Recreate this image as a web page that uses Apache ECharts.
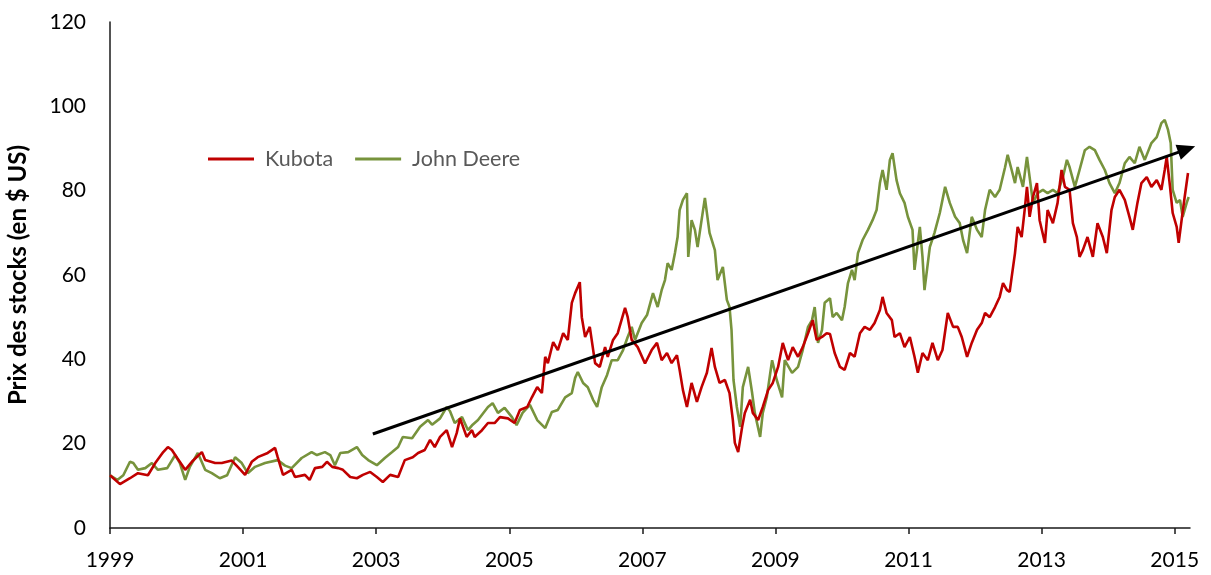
<!DOCTYPE html>
<html>
<head>
<meta charset="utf-8">
<script src="https://cdn.jsdelivr.net/npm/echarts@6/dist/echarts.min.js"></script>
<style>html,body{margin:0;padding:0;background:#fff}#c{width:1211px;height:575px}</style>
</head>
<body>
<div id="c"></div>
<script>
var yTicks = [0, 20, 40, 60, 80, 100, 120];
var xTickYears = [1999, 2001, 2003, 2005, 2007, 2009, 2011, 2013, 2015];
var seriesNames = ['Kubota', 'John Deere'];

var kubota = [
[1999.00,12.5],[1999.15,10.4],[1999.30,11.8],[1999.42,13.0],[1999.57,12.5],[1999.68,15.4],[1999.80,18.0],[1999.87,19.2],[1999.93,18.5],
[2000.01,16.6],[2000.13,13.8],[2000.23,15.7],[2000.38,18.0],[2000.43,16.1],[2000.58,15.4],[2000.68,15.4],[2000.83,16.0],[2000.92,14.5],
[2001.03,12.6],[2001.13,15.7],[2001.22,16.8],[2001.37,17.8],[2001.48,19.0],[2001.52,16.8],[2001.60,12.6],[2001.73,13.8],[2001.78,12.1],[2001.93,12.6],
[2002.00,11.4],[2002.08,14.2],[2002.19,14.5],[2002.26,15.7],[2002.34,14.5],[2002.43,14.2],[2002.50,13.8],[2002.61,12.1],[2002.71,11.8],[2002.80,12.6],[2002.91,13.3],
[2003.01,12.1],[2003.10,10.9],[2003.21,12.6],[2003.33,12.1],[2003.39,14.5],[2003.43,16.1],[2003.55,16.8],[2003.63,17.8],[2003.73,18.5],[2003.81,20.9],[2003.88,19.2],[2003.96,21.6],
[2004.06,23.2],[2004.14,19.2],[2004.21,22.5],[2004.26,26.0],[2004.36,21.6],[2004.44,23.2],[2004.48,21.6],[2004.59,23.2],[2004.68,24.9],[2004.78,24.9],[2004.86,26.3],[2004.98,26.0],
[2005.08,24.9],[2005.16,28.0],[2005.27,28.7],[2005.34,31.0],[2005.42,33.4],[2005.49,32.0],[2005.54,40.6],[2005.58,39.1],[2005.66,44.1],[2005.73,42.2],[2005.81,46.2],[2005.88,44.6],[2005.94,53.4],[2005.99,55.7],
[2006.06,58.3],[2006.09,50.0],[2006.14,45.3],[2006.21,47.7],[2006.29,39.1],[2006.36,38.2],[2006.44,42.9],[2006.48,40.6],[2006.56,44.6],[2006.63,46.2],[2006.74,52.2],[2006.78,50.0],[2006.84,44.6],[2006.93,42.9],
[2007.04,39.0],[2007.14,42.2],[2007.22,43.9],[2007.29,39.8],[2007.37,41.5],[2007.44,39.1],[2007.52,41.0],[2007.56,37.5],[2007.61,32.7],[2007.67,28.7],[2007.74,34.4],[2007.82,29.9],[2007.89,33.4],[2007.97,36.8],
[2008.04,42.7],[2008.09,38.2],[2008.16,34.4],[2008.24,35.1],[2008.31,32.0],[2008.36,25.6],[2008.39,20.2],[2008.44,18.0],[2008.50,24.0],[2008.54,27.3],[2008.62,30.4],[2008.66,27.3],[2008.74,25.6],[2008.81,28.7],[2008.89,32.7],[2008.96,34.4],
[2009.04,38.2],[2009.11,43.9],[2009.19,39.8],[2009.26,42.9],[2009.34,40.6],[2009.41,42.9],[2009.49,46.2],[2009.56,49.3],[2009.62,44.6],[2009.70,45.3],[2009.77,46.2],[2009.82,46.0],[2009.89,41.5],[2009.97,38.2],
[2010.04,37.5],[2010.12,41.5],[2010.19,40.6],[2010.27,46.2],[2010.34,47.7],[2010.42,47.0],[2010.49,48.6],[2010.57,51.7],[2010.61,54.8],[2010.67,51.0],[2010.75,49.3],[2010.79,45.3],[2010.87,46.2],[2010.94,42.9],
[2011.02,45.3],[2011.09,40.6],[2011.14,36.8],[2011.21,41.5],[2011.29,39.8],[2011.36,43.9],[2011.44,39.8],[2011.51,42.2],[2011.59,51.0],[2011.67,47.7],[2011.74,47.7],[2011.80,45.3],[2011.88,40.6],[2011.95,43.9],
[2012.03,47.0],[2012.10,48.6],[2012.15,51.0],[2012.22,50.0],[2012.30,52.4],[2012.37,54.8],[2012.42,58.1],[2012.48,56.4],[2012.52,56.0],[2012.55,59.5],[2012.60,65.2],[2012.64,71.4],[2012.70,69.0],[2012.75,76.1],[2012.78,80.9],[2012.82,73.8],[2012.87,78.5],[2012.93,81.8],[2012.97,73.0],
[2013.05,67.6],[2013.09,75.4],[2013.17,72.3],[2013.24,77.1],[2013.30,84.9],[2013.35,80.9],[2013.42,80.2],[2013.47,72.3],[2013.53,69.0],[2013.57,64.3],[2013.62,65.9],[2013.69,69.0],[2013.77,64.3],[2013.84,72.3],[2013.92,69.0],[2013.98,65.2],
[2014.05,75.4],[2014.10,78.5],[2014.17,80.2],[2014.25,77.8],[2014.32,73.8],[2014.37,70.7],[2014.44,77.1],[2014.50,81.8],[2014.58,83.2],[2014.65,80.9],[2014.73,82.5],[2014.80,80.2],[2014.85,84.9],[2014.88,88.0],[2014.93,80.9],[2014.97,74.7],
[2015.03,71.4],[2015.06,67.6],[2015.11,73.8],[2015.15,78.5],[2015.20,84.2]
];

var johnDeere = [
[1999.00,12.5],[1999.11,11.4],[1999.20,12.5],[1999.30,15.7],[1999.35,15.4],[1999.42,13.8],[1999.53,14.2],[1999.63,15.4],[1999.72,13.8],[1999.86,14.2],[1999.98,17.3],
[2000.05,15.4],[2000.13,11.4],[2000.20,14.5],[2000.32,17.8],[2000.43,13.8],[2000.53,13.0],[2000.65,11.8],[2000.76,12.5],[2000.88,16.8],[2000.98,15.4],
[2001.07,13.0],[2001.18,14.5],[2001.33,15.4],[2001.52,16.1],[2001.63,14.8],[2001.73,14.2],[2001.88,16.6],
[2002.03,18.0],[2002.11,17.3],[2002.23,18.0],[2002.31,17.3],[2002.38,14.9],[2002.46,17.8],[2002.58,18.0],[2002.71,19.2],[2002.79,17.3],[2002.88,16.1],
[2003.01,14.9],[2003.13,16.6],[2003.24,18.0],[2003.33,19.2],[2003.40,21.6],[2003.54,21.3],[2003.66,24.0],[2003.78,25.6],[2003.84,24.5],[2003.96,26.0],
[2004.06,28.7],[2004.11,27.7],[2004.18,24.9],[2004.29,26.3],[2004.38,23.2],[2004.45,24.5],[2004.53,25.6],[2004.68,28.7],[2004.75,29.6],[2004.83,27.3],[2004.93,28.5],
[2005.04,26.3],[2005.11,24.4],[2005.20,27.3],[2005.31,29.2],[2005.42,25.6],[2005.54,23.7],[2005.64,27.5],[2005.73,28.0],[2005.84,31.0],[2005.94,32.0],[2005.99,35.6],
[2006.03,37.0],[2006.11,34.4],[2006.18,33.4],[2006.26,30.4],[2006.32,28.7],[2006.39,33.4],[2006.47,36.3],[2006.54,39.8],[2006.63,39.8],[2006.71,42.2],[2006.78,45.3],[2006.84,47.7],[2006.89,44.6],[2006.99,48.6],
[2007.07,50.5],[2007.16,55.7],[2007.23,52.4],[2007.29,56.4],[2007.34,58.8],[2007.38,62.8],[2007.44,61.2],[2007.49,65.2],[2007.53,69.0],[2007.56,75.4],[2007.61,77.8],[2007.67,79.4],[2007.69,64.3],[2007.74,73.0],[2007.79,70.7],[2007.83,66.6],[2007.89,73.0],[2007.94,78.3],
[2008.01,70.0],[2008.09,65.9],[2008.13,58.8],[2008.21,61.9],[2008.27,54.1],[2008.31,52.4],[2008.34,47.0],[2008.37,35.1],[2008.42,28.7],[2008.47,24.0],[2008.51,33.4],[2008.59,38.2],[2008.65,32.0],[2008.69,27.3],[2008.77,21.6],[2008.81,27.3],[2008.87,31.0],[2008.95,39.8],
[2009.02,35.1],[2009.10,31.0],[2009.14,39.8],[2009.25,36.8],[2009.34,38.2],[2009.41,42.2],[2009.49,47.7],[2009.55,49.3],[2009.59,52.4],[2009.64,43.9],[2009.70,47.0],[2009.74,53.4],[2009.82,54.5],[2009.86,50.0],[2009.92,51.0],
[2010.00,49.3],[2010.04,52.4],[2010.09,58.1],[2010.15,61.2],[2010.19,58.8],[2010.24,65.2],[2010.31,68.3],[2010.39,70.7],[2010.46,73.0],[2010.52,75.4],[2010.57,81.8],[2010.61,84.9],[2010.67,80.2],[2010.72,87.3],[2010.76,88.9],[2010.82,82.5],[2010.87,79.4],[2010.94,77.1],[2010.99,73.8],
[2011.06,70.7],[2011.09,61.2],[2011.17,71.4],[2011.21,64.3],[2011.24,56.4],[2011.32,66.6],[2011.39,70.0],[2011.47,74.7],[2011.55,80.9],[2011.62,77.1],[2011.70,73.8],[2011.77,72.3],[2011.82,68.3],[2011.88,65.2],[2011.95,73.8],
[2012.03,70.7],[2012.10,69.0],[2012.15,75.4],[2012.22,80.2],[2012.30,78.5],[2012.37,80.2],[2012.45,85.5],[2012.49,88.5],[2012.55,84.9],[2012.60,81.8],[2012.64,85.6],[2012.72,80.9],[2012.78,88.0],[2012.82,83.2],[2012.87,77.1],[2012.94,79.4],
[2013.02,80.2],[2013.09,79.4],[2013.17,80.2],[2013.24,79.4],[2013.32,83.2],[2013.38,87.3],[2013.42,85.6],[2013.50,80.9],[2013.57,84.9],[2013.65,89.6],[2013.72,90.4],[2013.80,89.6],[2013.87,87.3],[2013.95,84.9],
[2014.02,81.8],[2014.10,79.4],[2014.17,81.8],[2014.25,86.5],[2014.32,88.0],[2014.40,86.5],[2014.47,90.4],[2014.55,87.3],[2014.65,91.3],[2014.73,92.7],[2014.80,96.0],[2014.85,96.8],[2014.90,94.4],[2014.94,91.3],[2014.97,80.2],
[2015.03,77.1],[2015.08,77.8],[2015.12,73.8],[2015.18,77.1],[2015.21,78.5]
];

var trendArrow = [[2002.95, 22.3], [2015.18, 89.8]];

var chart = echarts.init(document.getElementById('c'), null, {renderer: 'canvas'});
var fontFam = 'Lato, "Open Sans", sans-serif';
chart.setOption({
  animation: false,
  backgroundColor: '#ffffff',
  grid: {left: 110, right: 21, top: 22, bottom: 47, containLabel: false, outerBoundsMode: 'none'},
  legend: {
    left: 203, top: 143, itemWidth: 46, itemHeight: 3, itemGap: 22, icon: 'rect',
    data: seriesNames,
    textStyle: {color: '#595959', fontSize: 21.5, fontFamily: fontFam, padding: [0, 0, 0, 6]}
  },
  xAxis: {
    type: 'value', min: 1999, max: 2015.23,
    axisLine: {show: true, lineStyle: {color: '#1a1a1a', width: 1.5}},
    axisTick: {show: true, length: 6, lineStyle: {color: '#1a1a1a', width: 1.5}, customValues: xTickYears},
    axisLabel: {customValues: xTickYears, color: '#000', fontSize: 21, fontFamily: fontFam, margin: 22, formatter: function(v){return String(Math.round(v));}},
    splitLine: {show: false}
  },
  yAxis: {
    type: 'value', min: 0, max: 120, interval: 20,
    name: 'Prix des stocks (en $ US)', nameLocation: 'middle', nameGap: 80,
    nameTextStyle: {color: '#000', fontSize: 24, fontWeight: 'bold', fontFamily: fontFam},
    axisLine: {show: true, lineStyle: {color: '#1a1a1a', width: 1.5}},
    axisTick: {show: false},
    axisLabel: {color: '#000', fontSize: 21, fontFamily: fontFam, margin: 24},
    splitLine: {show: false}
  },
  series: [
    {
      name: seriesNames[0], type: 'line', data: kubota, showSymbol: false, symbol: 'none',
      lineStyle: {color: '#C00000', width: 2.6}, itemStyle: {color: '#C00000'}, z: 3
    },
    {
      name: seriesNames[1], type: 'line', data: johnDeere, showSymbol: false, symbol: 'none',
      lineStyle: {color: '#77933C', width: 2.6}, itemStyle: {color: '#77933C'}, z: 2,
      markLine: {
        silent: true, symbol: ['none', 'triangle'], symbolSize: [16, 18],
        label: {show: false},
        lineStyle: {color: '#000', width: 3, type: 'solid'},
        data: [[{coord: trendArrow[0]}, {coord: trendArrow[1]}]]
      }
    }
  ]
});
</script>
</body>
</html>
